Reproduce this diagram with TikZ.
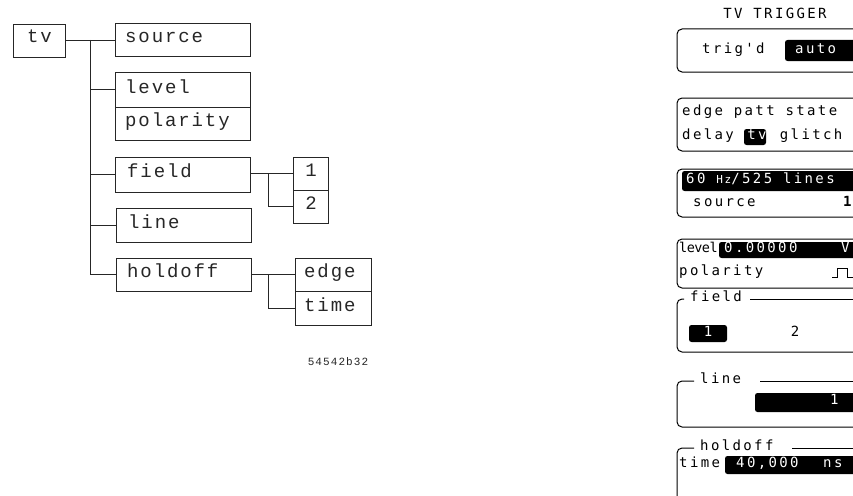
\documentclass[tikz,border=0pt]{standalone}
\usepackage{fontspec}
\setmainfont{Liberation Sans}
\newfontfamily\lfont[LetterSpace=10]{Liberation Mono}
\newfontfamily\pfont[LetterSpace=17]{DejaVu Sans Mono}
\newfontfamily\pfontc[LetterSpace=-4]{DejaVu Sans Mono}
\begin{document}
\begin{tikzpicture}[x=1pt,y=-1pt,
  box/.style={draw=black!85, line width=0.9pt, inner sep=0pt, minimum height=33pt},
  ltxt/.style={font=\lfont\fontsize{19}{19}\selectfont, text=black!85, inner sep=0pt, anchor=mid west},
  conn/.style={draw=black!85, line width=0.9pt},
  panel/.style={draw=black, line width=1pt, rounded corners=5pt},
  ptxt/.style={font=\pfont\fontsize{14}{14}\selectfont, inner sep=0pt, anchor=mid west},
  ptxtc/.style={font=\pfontc\fontsize{13.5}{13.5}\selectfont, inner sep=0pt, anchor=mid west},
  wtxt/.style={ptxt, text=white},
  hl/.style={fill=black, rounded corners=2.5pt},
]
\useasboundingbox (0,0) rectangle (853,495);
\clip (0,0) rectangle (853,495);

% ---------- left menu tree ----------
\node[box, minimum width=52pt] (tv) at (39,40.5) {};
\node[ltxt] (tvt) at (27,40) {tv};
\node[box, minimum width=135pt] (source) at (182.5,39.5) {};
\node[ltxt] (sourcet) at (125,40) {source};
\node[box, minimum width=135pt, minimum height=35pt] (level) at (182.5,89.5) {};
\node[ltxt] (levelt) at (125,91) {level};
\node[box, minimum width=135pt] (polarity) at (182.5,123.5) {};
\node[ltxt] (polarityt) at (125,124) {polarity};
\node[box, minimum width=135pt, minimum height=35pt] (field) at (182.5,174.5) {};
\node[ltxt] (fieldt) at (127,175) {field};
\node[box, minimum width=135pt, minimum height=34pt] (line) at (183.5,225) {};
\node[ltxt] (linet) at (128,226) {line};
\node[box, minimum width=135pt] (holdoff) at (183.5,274.5) {};
\node[ltxt] (holdofft) at (127,275) {holdoff};
\node[box, minimum width=35pt] (one) at (310.5,173.5) {};
\node[ltxt, anchor=mid] (onet) at (311,174) {1};
\node[box, minimum width=35pt] (two) at (310.5,206.5) {};
\node[ltxt, anchor=mid] (twot) at (311,207) {2};
\node[box, minimum width=76pt] (edge) at (333,274.5) {};
\node[ltxt] (edget) at (304,275) {edge};
\node[box, minimum width=76pt, minimum height=34pt] (time) at (333,308) {};
\node[ltxt] (timet) at (304,309) {time};

\coordinate (tk) at (90,40);
\coordinate (fk) at (268,173.5);
\coordinate (hk) at (268,274.5);
\draw[conn] (tv.east) -- (tv.east -| source.west);
\draw[conn] (tk) |- (holdoff.west);
\draw[conn] (tk |- level.west) -- (level.west);
\draw[conn] (tk |- field.west) -- (field.west);
\draw[conn] (tk |- line.west) -- (line.west);
\draw[conn] (field.east |- one.west) -- (one.west);
\draw[conn] (fk) |- (two.west);
\draw[conn] (holdoff.east) -- (edge.west);
\draw[conn] (hk) |- (time.west);

\node[font=\lfont\fontsize{11}{11}\selectfont, text=black!85, inner sep=0pt] (fig) at (338,362) {54542b32};

% ---------- right: TV TRIGGER panel ----------
\node[ptxt, anchor=mid] (title) at (775,16) {TV TRIGGER};

% box 1
\draw[panel] (870,29) -| (677,72) -- (870,72);
\node[ptxt] (trigd) at (702,51) {trig'd};
\fill[hl] (785,40) rectangle (870,61);
\node[wtxt] (auto) at (795,51) {auto};

% box 2
\draw[panel] (870,98) -| (677,151) -- (870,151);
\node[ptxt] (mode1) at (682,113) {edge patt state};
\node[ptxt] (delay) at (682,137) {delay};
\fill[hl] (744,129) rectangle (766,145);
\node[wtxt] (tvsel) at (747.2,137) {tv};
\node[ptxt] (glitch) at (779.7,137) {glitch};

% box 3
\draw[panel] (870,169) -| (677,217) -- (870,217);
\fill[hl] (682,171) rectangle (870,191);
\node[wtxt] (std) at (686,181) {60 {\fontsize{11}{11}\selectfont Hz}/525 lines};
\node[ptxt] (src) at (693,204) {source};
\node[ptxt, font=\pfont\bfseries\fontsize{14}{14}\selectfont] (srcval) at (843,204) {1};

% box 4
\draw[panel] (870,239) -| (677,288) -- (870,288);
\node[ptxtc] (lev) at (679,250) {level};
\fill[hl] (719,242) rectangle (870,258);
\node[wtxt] (levval) at (724,250) {0.00000};
\node[wtxt] (levunit) at (841,250) {V};
\node[ptxt] (pol) at (679,273) {polarity};
\draw[line width=1pt] (832,277) -- (837,277) -- (837,268) -- (847,268) -- (847,277) -- (855,277);

% box 5 field
\draw[panel] (684,299) -| (677,352) -- (870,352);
\node[ptxt] (fieldlab) at (690,299) {field};
\draw[line width=1pt] (750,299) -- (870,299);
\fill[hl] (689,325) rectangle (727,342);
\node[wtxt, anchor=mid] (f1) at (708,333.5) {1};
\node[ptxt, anchor=mid] (f2) at (795,333.5) {2};

% box 6 line
\draw[panel] (694,381) -| (677,427) -- (870,427);
\node[ptxt] (linelab) at (700,381) {line};
\draw[line width=1pt] (760,381) -- (870,381);
\fill[hl] (755,393) rectangle (870,412);
\node[wtxt] (lineval) at (830,402) {1};

% box 7 holdoff
\draw[panel] (694,448) -| (677,500);
\node[ptxt] (holdlab) at (700,448) {holdoff};
\draw[line width=1pt] (792,448) -- (870,448);
\node[ptxt] (timelab) at (679,465) {time};
\fill[hl] (725,456) rectangle (870,474);
\node[wtxt] (timeval) at (736,465) {40,000};
\node[wtxt] (timeunit) at (823,465) {ns};
\end{tikzpicture}
\end{document}
